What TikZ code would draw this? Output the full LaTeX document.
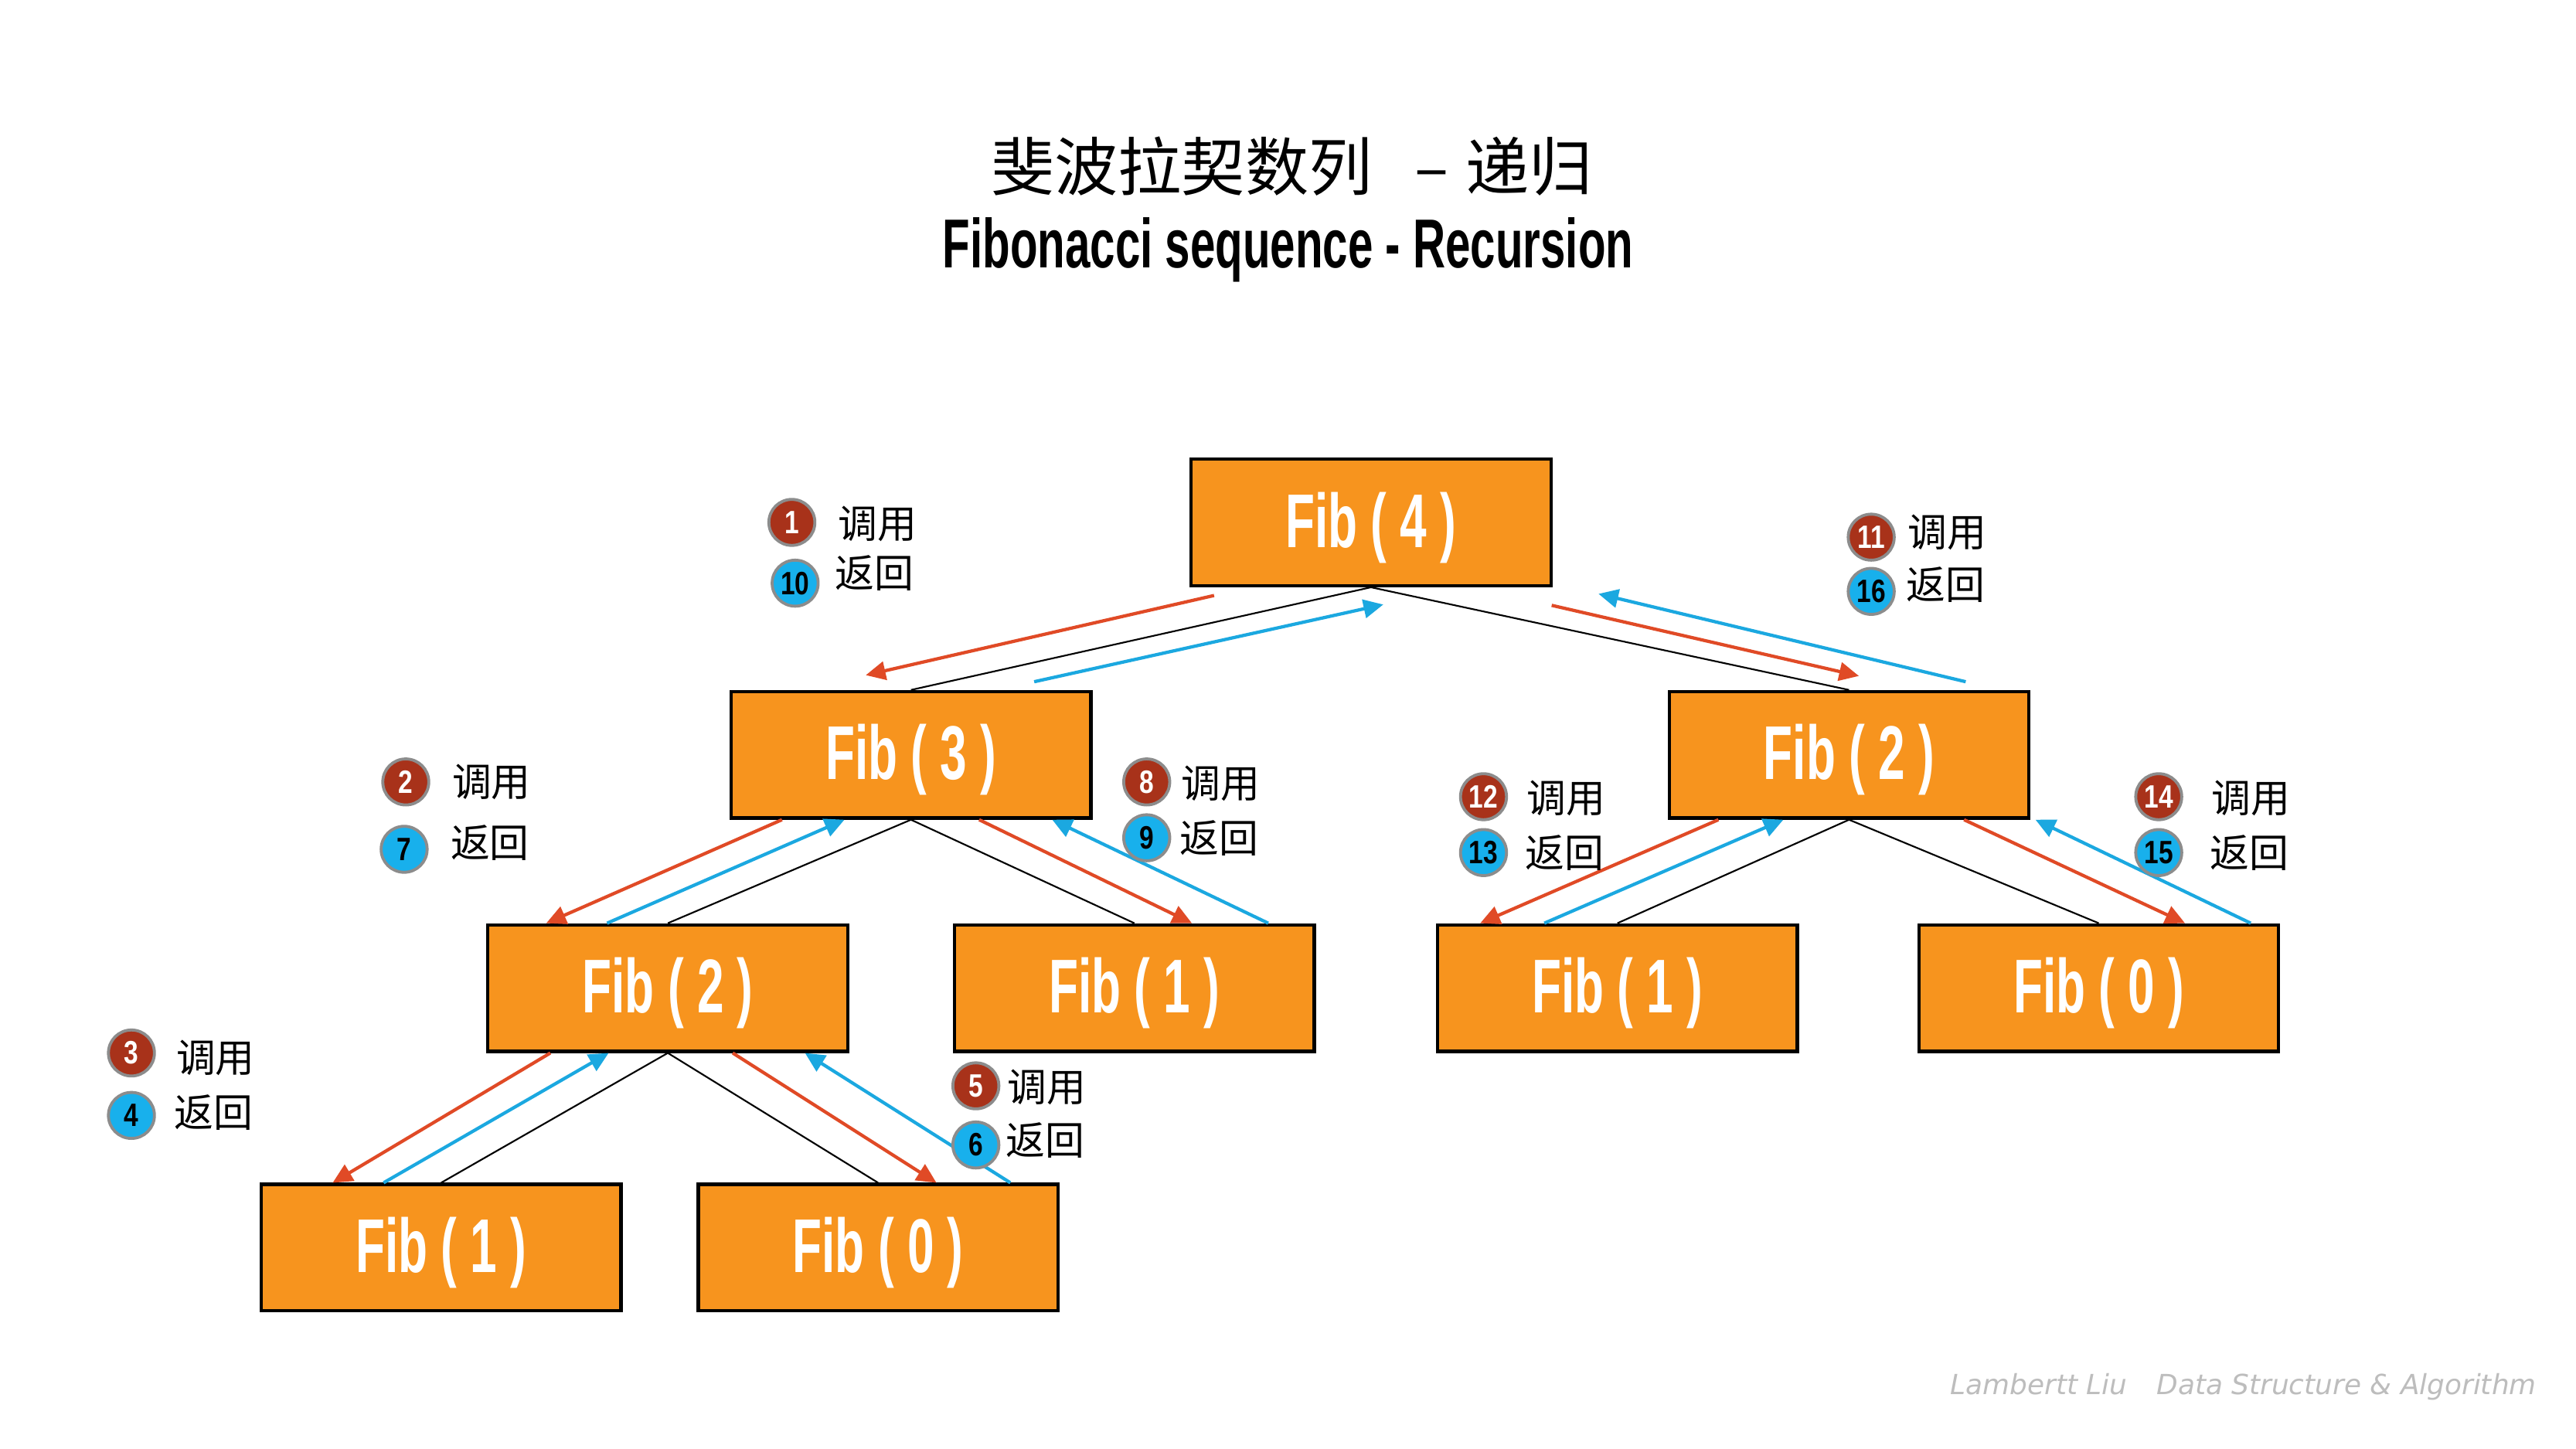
\documentclass[tikz,border=0pt]{standalone}
\usepackage{fontspec}
\usetikzlibrary{arrows.meta}
\newfontfamily\cjk{Noto Sans CJK SC}
\newfontfamily\fibfont[FakeStretch=0.63]{Liberation Sans}
\newfontfamily\numfont[FakeStretch=0.8]{Liberation Sans}
\newfontfamily\ttlfont[FakeStretch=0.65]{Liberation Sans}
\newfontfamily\footfont{DejaVu Sans}
\definecolor{boxorange}{HTML}{F7941E}
\definecolor{callred}{HTML}{E04A26}
\definecolor{retblue}{HTML}{1BA8E0}
\definecolor{circred}{HTML}{A8321A}
\definecolor{circblue}{HTML}{18B0EC}
\definecolor{circgray}{HTML}{8C8C8C}
\definecolor{footgray}{HTML}{BDBDBD}
\begin{document}
\begin{tikzpicture}[x=0.25mm,y=-0.25mm,
  fibbox/.style={draw=black, line width=0.5mm, fill=boxorange, minimum width=54.75mm, minimum height=19.25mm, inner sep=0pt, text height=10mm, text depth=2.45mm, text=white, font=\fibfont\bfseries\fontsize{33}{36}\selectfont},
  tree/.style={draw=black, line width=0.25mm},
  callarr/.style={draw=callred, line width=0.5mm, -{Triangle[length=3mm,width=2.8mm]}},
  retarr/.style={draw=retblue, line width=0.5mm, -{Triangle[length=3mm,width=2.8mm]}},
  redc/.style={circle, draw=circgray, line width=0.45mm, fill=circred, minimum size=7mm, inner sep=0pt, text=white, font=\numfont\bfseries\fontsize{14}{14}\selectfont},
  bluec/.style={circle, draw=circgray, line width=0.45mm, fill=circblue, minimum size=7mm, inner sep=0pt, text=black, font=\numfont\bfseries\fontsize{14}{14}\selectfont},
  lbl/.style={anchor=west, inner sep=0pt, font=\cjk\fontsize{17}{17}\selectfont}
]
\fill[white] (0,0) rectangle (1568,882);
\path[use as bounding box] (0,0) rectangle (1568,882);

% titles
\node[inner sep=0pt, anchor=west, font=\cjk\fontsize{27.5}{30}\selectfont] (tcn) at (603,101) {斐波拉契数列\hspace{6.5mm}–\hspace{2.5mm}递归};
\node[inner sep=0pt, anchor=base, font=\ttlfont\bfseries\fontsize{30}{32}\selectfont] (ten) at (784,163) {Fibonacci sequence - Recursion};

% boxes
\node[fibbox] (f4) at (834.5,318) {Fib ( 4 )};
\node[fibbox] (f3) at (554.5,459.5) {Fib ( 3 )};
\node[fibbox] (f2r) at (1125.5,459.5) {Fib ( 2 )};
\node[fibbox] (f2l) at (406.5,601.5) {Fib ( 2 )};
\node[fibbox] (f1m) at (690.5,601.5) {Fib ( 1 )};
\node[fibbox] (f1r) at (984.5,601.5) {Fib ( 1 )};
\node[fibbox] (f0r) at (1277.5,601.5) {Fib ( 0 )};
\node[fibbox] (f1b) at (268.5,759.5) {Fib ( 1 )};
\node[fibbox] (f0b) at (534.5,759.5) {Fib ( 0 )};

% tree lines
\draw[tree] (f4.south) -- (f3.north);
\draw[tree] (f4.south) -- (f2r.north);
\draw[tree] (f3.south) -- (f2l.north);
\draw[tree] (f3.south) -- (f1m.north);
\draw[tree] (f2l.south) -- (f1b.north);
\draw[tree] (f2l.south) -- (f0b.north);
\draw[tree] (f2r.south) -- (f1r.north);
\draw[tree] (f2r.south) -- (f0r.north);

% call / return arrows
\draw[callarr] ([shift={(-95.5,5)}]f4.south) -- ([shift={(-27.5,-9)}]f3.north);
\draw[retarr] ([shift={(75,-5)}]f3.north) -- ([shift={(7.5,10.5)}]f4.south);
\draw[callarr] ([shift={(110,11)}]f4.south) -- ([shift={(6,-8.5)}]f2r.north);
\draw[retarr] ([shift={(71,-5)}]f2r.north) -- ([shift={(138.5,4)}]f4.south);

\draw[callarr] ([shift={(-78.5,0)}]f3.south) -- ([shift={(-74,0)}]f2l.north);
\draw[retarr] ([shift={(-37,0)}]f2l.north) -- ([shift={(-40.5,0)}]f3.south);
\draw[callarr] ([shift={(41.5,0)}]f3.south) -- ([shift={(35,0)}]f1m.north);
\draw[retarr] ([shift={(81.5,0)}]f1m.north) -- ([shift={(86,0)}]f3.south);

\draw[callarr] ([shift={(-71.5,0)}]f2l.south) -- ([shift={(-66,0)}]f1b.north);
\draw[retarr] ([shift={(-35,0)}]f1b.north) -- ([shift={(-36,0)}]f2l.south);
\draw[callarr] ([shift={(39.5,0)}]f2l.south) -- ([shift={(35.5,0)}]f0b.north);
\draw[retarr] ([shift={(80.5,0)}]f0b.north) -- ([shift={(83.5,0)}]f2l.south);

\draw[callarr] ([shift={(-79.5,0)}]f2r.south) -- ([shift={(-83.5,0)}]f1r.north);
\draw[retarr] ([shift={(-44.5,0)}]f1r.north) -- ([shift={(-40,0)}]f2r.south);
\draw[callarr] ([shift={(70,0)}]f2r.south) -- ([shift={(52.5,0)}]f0r.north);
\draw[retarr] ([shift={(92.5,0)}]f0r.north) -- ([shift={(113.5,0)}]f2r.south);

% step labels
\node[redc] (c1) at (482,318) {1};
\node[lbl] (l1) at (510,319) {调用};
\node[bluec] (c10) at (484,355) {10};
\node[lbl] (l10) at (508,349) {返回};

\node[redc] (c2) at (247,476) {2};
\node[lbl] (l2) at (275,476) {调用};
\node[bluec] (c7) at (246,517) {7};
\node[lbl] (l7) at (274,513) {返回};

\node[redc] (c8) at (698,476) {8};
\node[lbl] (l8) at (719,477) {调用};
\node[bluec] (c9) at (698,510) {9};
\node[lbl] (l9) at (718,510) {返回};

\node[redc] (c3) at (80,641) {3};
\node[lbl] (l3) at (107,644) {调用};
\node[bluec] (c4) at (80,679) {4};
\node[lbl] (l4) at (106,677) {返回};

\node[redc] (c5) at (594,661) {5};
\node[lbl] (l5) at (613,662) {调用};
\node[bluec] (c6) at (594,697) {6};
\node[lbl] (l6) at (612,694) {返回};

\node[redc] (c11) at (1139,327) {11};
\node[lbl] (l11) at (1161,324) {调用};
\node[bluec] (c16) at (1139,360) {16};
\node[lbl] (l16) at (1160,356) {返回};

\node[redc] (c12) at (903,485) {12};
\node[lbl] (l12) at (929,486) {调用};
\node[bluec] (c13) at (903,519) {13};
\node[lbl] (l13) at (928,519) {返回};

\node[redc] (c14) at (1314,485) {14};
\node[lbl] (l14) at (1346,486) {调用};
\node[bluec] (c15) at (1314,519) {15};
\node[lbl] (l15) at (1345,519) {返回};

% footer
\node[anchor=base west, inner sep=0pt, text=footgray, font=\footfont\itshape\fontsize{12}{13}\selectfont] (foot) at (1187,849) {Lambertt Liu\hspace{4.5mm}Data Structure \& Algorithm};
\end{tikzpicture}
\end{document}
